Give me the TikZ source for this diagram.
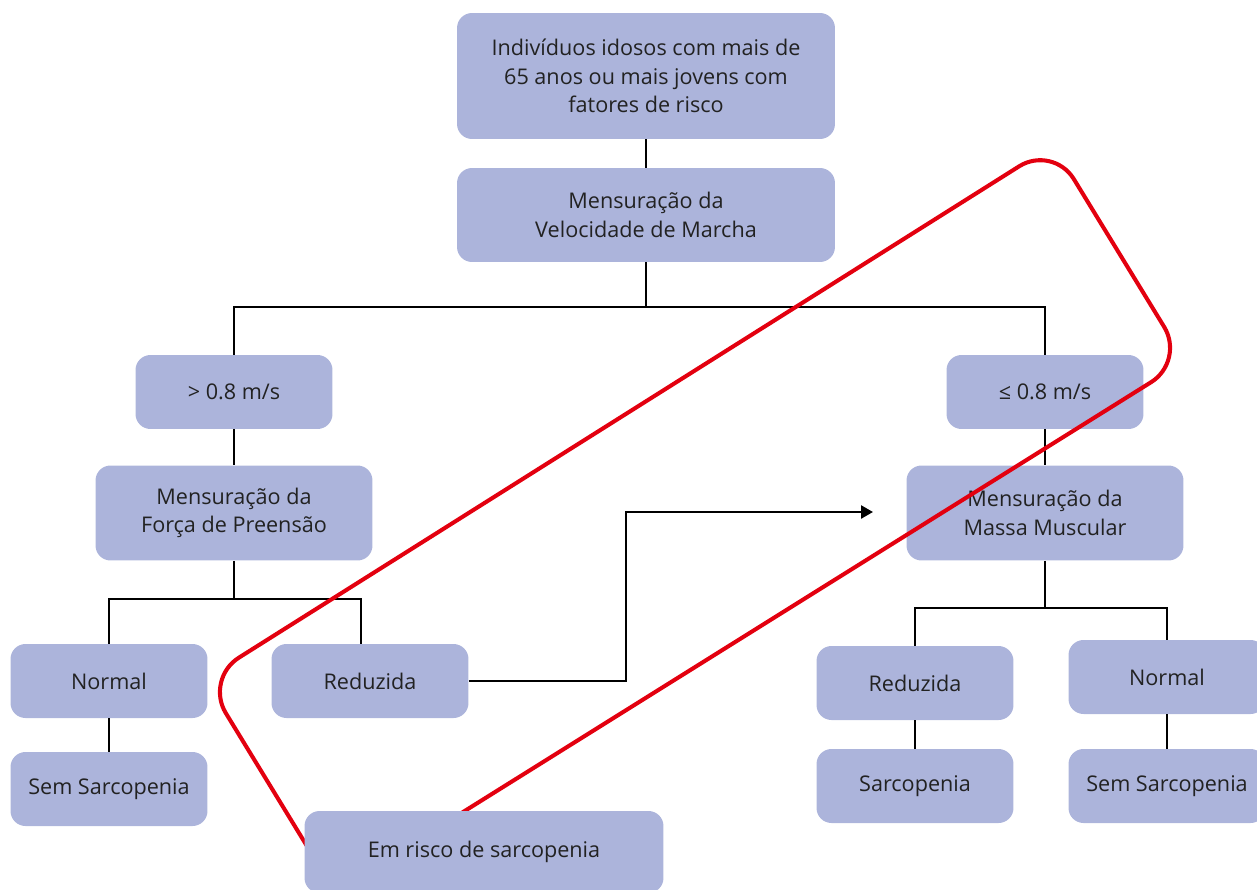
\documentclass[tikz,border=0pt]{standalone}
\usepackage{fontspec}
\setmainfont{Open Sans}
\usepackage{tikz}
\usetikzlibrary{positioning,calc,arrows.meta}
\definecolor{BoxFill}{HTML}{ACB4DB}
\definecolor{TextDark}{HTML}{222222}
\definecolor{MarkRed}{HTML}{E3000F}

\begin{document}
\begin{tikzpicture}[
    x=0.02cm, y=-0.02cm,
    box/.style={rectangle, fill=BoxFill, rounded corners=0.3cm, minimum height=1.48cm, minimum width=3.94cm, align=center, font=\fontsize{12.3}{16.3}\selectfont\color{TextDark}, inner sep=2pt},
    bigbox/.style={box, minimum width=7.56cm},
    midbox/.style={box, minimum width=5.54cm, minimum height=1.9cm},
    link/.style={line width=1.4pt, black},
    arrow/.style={link, -{Triangle[length=0.24cm, width=0.26cm]}},
    outline/.style={MarkRed, line width=2.3pt, rounded corners=0.8cm}
  ]
    \useasboundingbox (0,0) rectangle (1257,889);

    % Top
    \node (idosos) [bigbox, minimum height=2.52cm] at (646,76) {Indivíduos idosos com mais de\\65 anos ou mais jovens com\\fatores de risco};
    \node (marcha) [bigbox, minimum height=1.88cm] at (646,215) {Mensuração da\\Velocidade de Marcha};

    % Speed
    \node (rapido) [box] at (234,392) {> 0.8 m/s};
    \node (lento) [box] at (1045,392) {≤ 0.8 m/s};

    % Measurements
    \node (forca) [midbox] at (234,513) {Mensuração da\\Força de Preensão};
    \node (massa) [midbox] at (1045,513) {Mensuração da\\Massa Muscular};

    % Left results
    \node (normalL) [box] at (109,681) {Normal};
    \node (reduzL) [box] at (370,681) {Reduzida};
    \node (semL) [box] at (109,789) {Sem Sarcopenia};

    % Right results
    \node (reduzR) [box] at (915,683) {Reduzida};
    \node (normalR) [box] at (1167,677) {Normal};
    \node (sarcR) [box] at (915,786) {Sarcopenia};
    \node (semR) [box] at (1167,786) {Sem Sarcopenia};

    % Split points
    \coordinate (split1) at (646,307);
    \coordinate (split2) at (234,599);
    \coordinate (split3) at (1045,608);
    \coordinate (bend) at (626,512);
    \coordinate (arrowEnd) at (873,512);

    % Connections
    \draw [link] (idosos) -- (marcha);
    \draw [link] (marcha) -- (split1);
    \draw [link] (rapido.north) |- (split1) -| (lento.north);
    \draw [link] (rapido) -- (forca);
    \draw [link] (lento) -- (massa);
    \draw [link] (forca) -- (split2);
    \draw [link] (normalL.north) |- (split2) -| ([xshift=-0.18cm]reduzL.north);
    \draw [link] (normalL) -- (semL);
    \draw [link] (massa) -- (split3);
    \draw [link] (reduzR.north) |- (split3) -| (normalR.north);
    \draw [link] (reduzR) -- (sarcR);
    \draw [link] (normalR) -- (semR);
    \draw [arrow] (reduzL.east) -| (bend) -- (arrowEnd);

    % Risk outline
    \draw [outline] (1053,145) -- (1185,361) -- (335,892) -- (205,679) -- cycle;
    \node (risco) [box, minimum width=7.18cm, minimum height=1.64cm] at (484,852) {Em risco de sarcopenia};
  \end{tikzpicture}
\end{document}
